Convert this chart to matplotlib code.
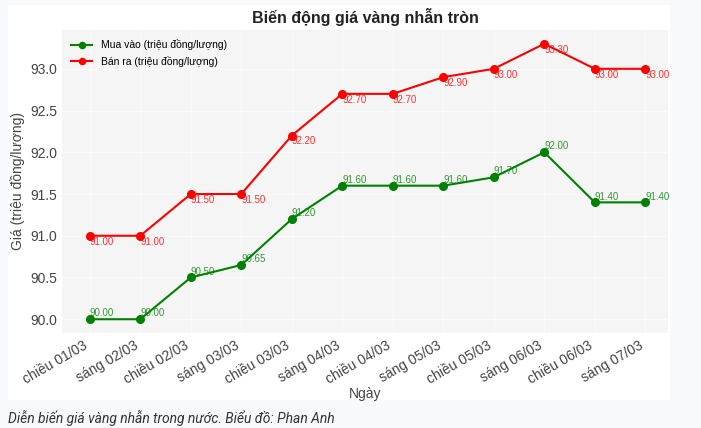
import matplotlib.pyplot as plt
from matplotlib.patches import Rectangle

plt.rcParams['font.family'] = ['Liberation Sans', 'DejaVu Sans']

labels = ['chiều 01/03', 'sáng 02/03', 'chiều 02/03', 'sáng 03/03', 'chiều 03/03',
          'sáng 04/03', 'chiều 04/03', 'sáng 05/03', 'chiều 05/03', 'sáng 06/03',
          'chiều 06/03', 'sáng 07/03']
mua_vao = [90.00, 90.00, 90.50, 90.65, 91.20, 91.60, 91.60, 91.60, 91.70, 92.00, 91.40, 91.40]
ban_ra = [91.00, 91.00, 91.50, 91.50, 92.20, 92.70, 92.70, 92.90, 93.00, 93.30, 93.00, 93.00]

fig = plt.figure(figsize=(7.01, 4.28), dpi=100, facecolor='#f8f9fc')

# white chart panel
fig.patches.append(Rectangle((8 / 701, 28 / 428), 662 / 701, 395 / 428,
                             transform=fig.transFigure, facecolor='white',
                             edgecolor='none', zorder=-1))

ax = fig.add_axes([62 / 701, 95 / 428, 606 / 701, 303 / 428])
ax.set_zorder(2)
ax.set_facecolor('#f5f5f5')
ax.grid(True, color='white', linewidth=0.5, alpha=0.8)
ax.set_axisbelow(True)
for s in ax.spines.values():
    s.set_visible(False)

x = list(range(len(labels)))
ax.plot(x, mua_vao, color='green', marker='o', markersize=5.5, linewidth=1.5,
        label='Mua vào (triệu đồng/lượng)')
ax.plot(x, ban_ra, color='red', marker='o', markersize=5.5, linewidth=1.5,
        label='Bán ra (triệu đồng/lượng)')

for i, v in enumerate(mua_vao):
    ax.text(i, v + 0.01, f'{v:.2f}', color='green', alpha=0.8, fontsize=7,
            ha='left', va='bottom')
for i, v in enumerate(ban_ra):
    ax.text(i, v - 0.01, f'{v:.2f}', color='red', alpha=0.8, fontsize=7,
            ha='left', va='top')

ax.set_xticks(x)
ax.set_xticklabels(labels, rotation=30, ha='right', fontsize=10, color='#444444')
ax.tick_params(axis='y', labelsize=10, labelcolor='#444444', length=0)
ax.tick_params(axis='x', length=0, pad=4)
ax.set_yticks([90.0, 90.5, 91.0, 91.5, 92.0, 92.5, 93.0])
ax.set_ylim(89.835, 93.465)
ax.set_xlim(-0.55, 11.45)

ax.set_ylabel('Giá (triệu đồng/lượng)', fontsize=10, color='#444444')
ax.set_xlabel('Ngày', fontsize=10, color='#444444', labelpad=0)
ax.set_title('Biến động giá vàng nhẫn tròn', fontsize=11.5, fontweight='bold',
             color='#222222', pad=5)
ax.legend(loc='upper left', frameon=False, fontsize=7.5, markerscale=0.8)

fig.text(8 / 701, 10 / 428, 'Diễn biến giá vàng nhẫn trong nước. Biểu đồ: Phan Anh',
         fontsize=10, style='italic', color='#333333', family=['Roboto', 'DejaVu Sans'],
         ha='left', va='center')

fig.savefig('out.png', dpi=100, facecolor=fig.get_facecolor())
